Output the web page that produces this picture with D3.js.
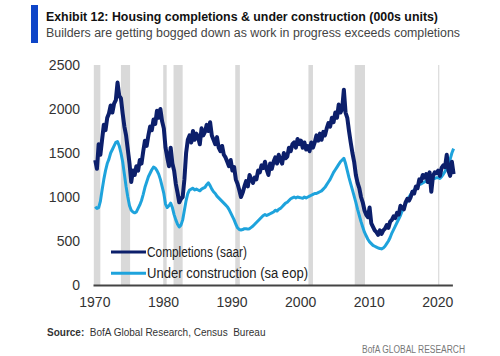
<!DOCTYPE html>
<html><head><meta charset="utf-8">
<script src="https://cdn.jsdelivr.net/npm/d3@7"></script>
<style>
html,body{margin:0;padding:0;background:#fff;}
svg{display:block;font-family:"Liberation Sans",Arial,sans-serif;}
</style></head>
<body><svg id="c" width="500" height="356"></svg>
<script>
// Quarterly values by year (000s units)
const years = [1970,1971,1972,1973,1974,1975,1976,1977,1978,1979,1980,1981,1982,1983,1984,1985,1986,1987,1988,1989,1990,1991,1992,1993,1994,1995,1996,1997,1998,1999,2000,2001,2002,2003,2004,2005,2006,2007,2008,2009,2010,2011,2012,2013,2014,2015,2016,2017,2018,2019,2020,2021,2022];
const completions = [
 [1420,1320,1600,1480],[1650,1820,1760,1900],[1950,2040,1960,2060],[2100,2300,2150,2120],
 [1950,1800,1700,1540],[1380,1170,1300,1250],[1350,1300,1420,1380],[1520,1640,1580,1700],
 [1800,1760,1880,1830],[1980,1900,2000,1860],[1780,1560,1450,1350],[1560,1380,1300,1150],
 [1050,940,980,1000],[1200,1500,1650,1700],[1620,1750,1650,1720],[1680,1600,1780,1700],
 [1740,1820,1750,1850],[1700,1650,1600,1680],[1560,1520,1580,1480],[1450,1400,1350,1420],
 [1300,1340,1200,1150],[1080,1000,1050,1120],[1180,1120,1250,1200],[1160,1220,1200,1300],
 [1280,1360,1330,1400],[1310,1250,1380,1320],[1400,1450,1380,1480],[1420,1380,1500,1440],
 [1460,1560,1520,1600],[1620,1560,1660,1600],[1640,1560,1620,1540],[1580,1520,1620,1560],
 [1620,1700,1640,1720],[1650,1740,1700,1780],[1840,1800,1900,1850],[1960,1900,2050,1960],
 [2000,2220,1960,1900],[1750,1620,1500,1400],[1250,1160,1100,1000],[940,850,800,770],
 [880,700,660,620],[600,570,620,580],[620,640,680,650],[720,740,780,760],
 [820,800,900,880],[860,940,980,960],[1000,1060,1040,1120],[1100,1200,1180,1250],
 [1220,1260,1170,1280],[1060,1240,1280,1270],[1300,1240,1330,1360],[1340,1480,1300,1240],
 [1400,1260]
];
const underConstruction = [
 [890,870,880,950],[1080,1200,1300,1380],[1430,1500,1540,1580],[1620,1630,1580,1500],
 [1400,1260,1120,1000],[900,850,830,820],[830,870,910,960],[1030,1110,1170,1230],
 [1270,1310,1340,1330],[1300,1260,1200,1120],[1040,920,880,900],[930,880,800,740],
 [690,660,680,740],[850,960,1040,1080],[1090,1100,1080,1090],[1080,1070,1090,1100],
 [1110,1140,1160,1130],[1090,1060,1040,1010],[990,970,950,930],[910,890,860,820],
 [780,740,690,650],[630,625,630,640],[640,635,640,655],[670,690,710,730],
 [750,770,790,800],[790,800,810,820],[830,850,840,860],[870,890,910,930],
 [940,960,980,990],[1000,990,1000,995],[990,985,1000,990],[1000,1010,1020,1030],
 [1040,1040,1050,1060],[1070,1090,1110,1140],[1170,1200,1240,1280],[1310,1340,1370,1400],
 [1420,1440,1380,1300],[1220,1150,1080,1010],[940,860,790,720],[660,600,560,520],
 [490,470,450,440],[430,420,415,410],[420,440,470,500],[540,590,630,670],
 [710,750,790,840],[880,920,960,1000],[1030,1060,1080,1100],[1120,1140,1150,1160],
 [1170,1180,1190,1200],[1200,1210,1210,1220],[1220,1210,1230,1260],[1290,1330,1380,1430],
 [1500,1550]
];
const recessions = [[1969.92,1970.87],[1973.87,1975.21],[1980.04,1980.54],[1981.54,1982.87],[1990.54,1991.21],[2001.21,2001.87],[2007.96,2009.46],[2020.12,2020.29]];
const xTicks = [1970,1980,1990,2000,2010,2020];
const yTicks = [0,500,1000,1500,2000,2500];
const seriesNames = ["Completions (saar)","Under construction (sa eop)"];
const colors = ["#0c1f6b","#1ea3dc"];

function flatten(arr){
  const out=[];
  arr.forEach((qs,i)=>qs.forEach((v,q)=>out.push({t:years[i]+q/4+0.125,v})));
  return out;
}
const compData = flatten(completions);
const ucData = flatten(underConstruction);

const svg = d3.select("#c");
const x = d3.scaleLinear().domain([1969.8,2022.2]).range([93,452.4]);
const y = d3.scaleLinear().domain([0,2500]).range([285,65]);

// Header
svg.append("rect").attr("x",31).attr("y",5).attr("width",7).attr("height",38).attr("fill","#0e45c8");
svg.append("text").attr("x",46).attr("y",20.5).attr("font-size",12).attr("font-weight","bold").attr("fill","#111")
  .attr("textLength",392).attr("lengthAdjust","spacingAndGlyphs")
  .text("Exhibit 12: Housing completions & under construction (000s units)");
svg.append("text").attr("x",46).attr("y",36.5).attr("font-size",12).attr("fill","#444")
  .attr("textLength",414).attr("lengthAdjust","spacingAndGlyphs")
  .text("Builders are getting bogged down as work in progress exceeds completions");

// Recession bands
svg.append("g").selectAll("rect").data(recessions).join("rect")
  .attr("x",d=>x(d[0])).attr("width",d=>Math.max(1,x(d[1])-x(d[0])))
  .attr("y",y(2500)).attr("height",y(0)-y(2500)).attr("fill","#d9d9d9");

// Y axis labels
svg.append("g").selectAll("text").data(yTicks).join("text")
  .attr("x",80).attr("y",d=>y(d)).attr("dy","0.35em").attr("text-anchor","end")
  .attr("font-size",14).attr("fill","#333").text(d=>d);

// X axis
const xAxis = d3.axisBottom(x).tickValues(xTicks).tickFormat(d3.format("d")).tickSize(0).tickPadding(12);
const gx = svg.append("g").attr("transform",`translate(0,${y(0)})`).call(xAxis);
gx.select(".domain").attr("stroke","#444").attr("stroke-width",2);
gx.selectAll("text").attr("font-size",14).attr("fill","#333").attr("font-family","Liberation Sans, Arial, sans-serif");

// Lines
const line = d3.line().x(d=>x(d.t)).y(d=>y(d.v)).curve(d3.curveLinear);
svg.append("path").datum(ucData).attr("d",line).attr("fill","none").attr("stroke",colors[1]).attr("stroke-width",3).attr("stroke-linejoin","round");
svg.append("path").datum(compData).attr("d",line).attr("fill","none").attr("stroke",colors[0]).attr("stroke-width",4).attr("stroke-linejoin","round");

// Legend
const lg = svg.append("g");
seriesNames.forEach((n,i)=>{
  const yy = 252 + i*21.3;
  lg.append("line").attr("x1",111).attr("x2",146).attr("y1",yy).attr("y2",yy).attr("stroke",colors[i]).attr("stroke-width",3);
  lg.append("text").attr("x",147).attr("y",yy).attr("dy","0.35em").attr("font-size",14).attr("fill","#222")
    .attr("textLength", i===0?100:161).attr("lengthAdjust","spacingAndGlyphs").text(n);
});

// Footer
const src = svg.append("text").attr("x",47).attr("y",336).attr("font-size",10).attr("fill","#333");
src.append("tspan").attr("font-weight","bold").text("Source:");
src.append("tspan").text("\u00a0 BofA Global Research, Census\u00a0 Bureau");
svg.append("text").attr("x",465).attr("y",352.5).attr("text-anchor","end").attr("font-size",10).attr("fill","#777")
  .attr("textLength",103).attr("lengthAdjust","spacingAndGlyphs").text("BofA GLOBAL RESEARCH");
</script></body></html>
